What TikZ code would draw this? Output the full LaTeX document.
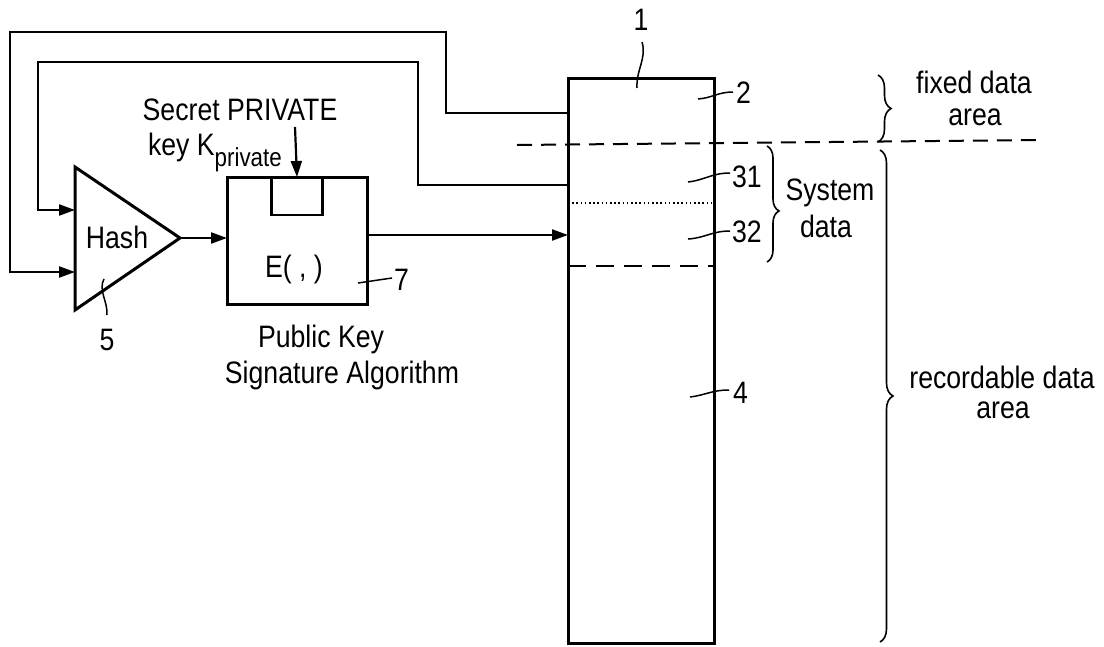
\documentclass[tikz,border=0pt]{standalone}
\usepackage{fontspec}
\setmainfont{Liberation Sans}[FakeStretch=0.86]
\usetikzlibrary{arrows.meta,decorations.pathreplacing}
\begin{document}
\begin{tikzpicture}[x=1pt,y=-1pt,
  every node/.style={inner sep=0pt,outer sep=0pt},
  txt/.style={font=\fontsize{31pt}{34pt}\selectfont},
  boxline/.style={line width=3pt},
  conn/.style={line width=2.2pt},
  arr/.style={conn,-{Triangle[length=16pt,width=11pt]}},
  leader/.style={line width=1.5pt},
  brc/.style={line width=1.6pt,decorate,decoration={brace,amplitude=13pt}},
  dashline/.style={line width=2pt,dash pattern=on 15pt off 9pt},
  dotline/.style={line width=2pt,dash pattern=on 1.6pt off 2.6pt}]
\useasboundingbox (0,0) rectangle (1104,646);

% memory (record carrier)
\node (mem) [draw,boxline,rectangle,minimum width=146pt,minimum height=565pt] at (641,360.5) {};
% signature box
\node (ebox) [draw,boxline,rectangle,minimum width=140pt,minimum height=127pt] at (297,240.5) {};
\node (slot) [draw,line width=2.5pt,rectangle,minimum width=51pt,minimum height=38pt,anchor=north] at (ebox.north) {};
% hash triangle
\coordinate (hT) at (75,167);
\coordinate (hB) at (75,310);
\coordinate (hA) at (180,238);
\draw[boxline,line join=miter] (hT) -- (hA) -- (hB) -- cycle;

% helper y levels
\coordinate (y113) at (0,113);
\coordinate (y185) at (0,185);
\coordinate (y210) at (0,210);
\coordinate (y272) at (0,272);
\coordinate (y235) at (0,235);
\coordinate (keyin) at (295,127);

% feedback connectors
\draw[arr] (mem.west |- y113) -- (446,113) -- (446,32) -- (10,32) -- (10,272) -- (hT |- y272);
\draw[arr] (mem.west |- y185) -- (418,185) -- (418,62) -- (38,62) -- (38,210) -- (hT |- y210);
% hash -> E
\draw[arr] (hA) -- (hA -| ebox.west);
% E -> memory
\draw[arr] (ebox.east |- y235) -- (mem.west |- y235);
% key arrow
\draw[arr] (keyin) -- (slot.north);

% area separators
\draw[dashline] (517,145) -- (1040,140);
\draw[dotline] (mem.west |- 0,203) -- (mem.east |- 0,203);
\draw[line width=2pt,dash pattern=on 18pt off 10pt] (mem.west |- 0,266) -- (mem.east |- 0,266);

% leaders
\draw[leader] (642,42) .. controls (647,58) and (636,70) .. (637,88);
\draw[leader] (698,99) .. controls (712,98) and (718,92) .. (733,92);
\draw[leader] (688,182) .. controls (705,180) and (712,173) .. (730,173);
\draw[leader] (688,239) .. controls (705,238) and (712,231) .. (730,231);
\draw[leader] (690,397) .. controls (706,395) and (712,390) .. (729,390);
\draw[leader] (358,283) -- (392,278);
\draw[leader] (104,279) .. controls (98,290) and (108,302) .. (107,315);

% braces
\draw[brc] (878,75) -- (878,142);
\draw[brc,decoration={brace,amplitude=12pt,aspect=0.56}] (767,146) -- (767,262);
\draw[brc] (880,150) -- (880,642);

% texts
\node[txt,anchor=base] (t1) at (641,30) {1};
\node[txt,anchor=base west] (t2) at (736,103) {2};
\node[txt,anchor=base west] (t31) at (732,187) {31};
\node[txt,anchor=base west] (t32) at (732,242) {32};
\node[txt,anchor=base west] (t4) at (733,403) {4};
\node[txt,anchor=base west] (t7) at (394,290) {7};
\node[txt,anchor=base] (t5) at (107,350) {5};
\node[txt,anchor=base] (hashlbl) at (117,248) {Hash};
\node[txt,anchor=base] (elbl) at (294,277) {E( , )};
\node[txt,anchor=base] (sec1) at (240,120) {Secret PRIVATE};
\node[txt,anchor=base west] (sec2) at (148,155) {key K\raisebox{-11pt}{\fontsize{26pt}{30pt}\selectfont private}};
\node[txt,anchor=base] (pk1) at (321,347) {Public Key};
\node[txt,anchor=base] (pk2) at (342,383) {Signature Algorithm};
\node[txt,anchor=base] (fd1) at (974,93) {fixed data};
\node[txt,anchor=base] (fd2) at (975,125) {area};
\node[txt,anchor=base] (sd1) at (830,200) {System};
\node[txt,anchor=base] (sd2) at (826,237) {data};
\node[txt,anchor=base] (rd1) at (1002,388) {recordable data};
\node[txt,anchor=base] (rd2) at (1003,418) {area};
\end{tikzpicture}
\end{document}
